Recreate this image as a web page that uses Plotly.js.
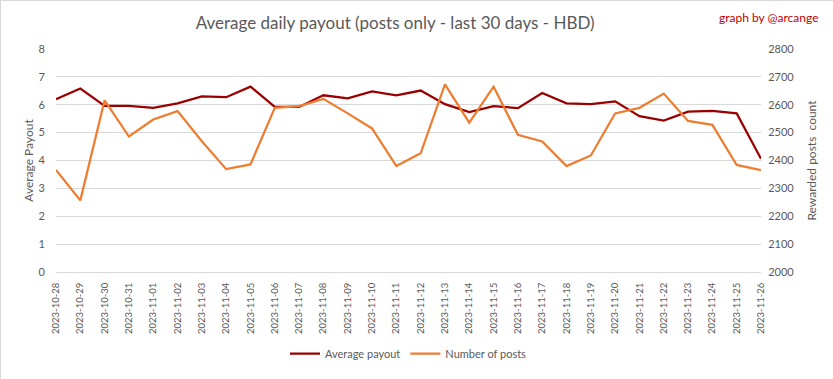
<!DOCTYPE html>
<html>
<head>
<meta charset="utf-8">
<script src="https://cdn.plot.ly/plotly-3.0.1.min.js"></script>
<style>
html,body{margin:0;padding:0;background:#fff;}
#chart{width:833px;height:379px;box-sizing:border-box;border:1px solid #d9d9d9;}
</style>
</head>
<body>
<div id="chart"></div>
<script>
const dates = ["2023-10-28","2023-10-29","2023-10-30","2023-10-31","2023-11-01","2023-11-02","2023-11-03","2023-11-04","2023-11-05","2023-11-06","2023-11-07","2023-11-08","2023-11-09","2023-11-10","2023-11-11","2023-11-12","2023-11-13","2023-11-14","2023-11-15","2023-11-16","2023-11-17","2023-11-18","2023-11-19","2023-11-20","2023-11-21","2023-11-22","2023-11-23","2023-11-24","2023-11-25","2023-11-26"];
const averagePayout = [6.20,6.58,5.96,5.96,5.89,6.05,6.30,6.27,6.65,5.92,5.92,6.34,6.23,6.48,6.34,6.51,6.02,5.74,5.95,5.88,6.42,6.05,6.02,6.12,5.59,5.43,5.75,5.78,5.69,4.06];
const numberOfPosts = [2366,2257,2616,2486,2547,2577,2469,2369,2386,2589,2595,2621,2569,2515,2380,2426,2673,2536,2665,2492,2468,2380,2418,2569,2589,2640,2542,2528,2384,2365];

const fontFam = "Lato, 'Open Sans', sans-serif";
const grey = "#595959";

const traces = [
  {x: dates, y: averagePayout, name: "Average payout", type: "scatter", mode: "lines",
   line: {color: "#9b0000", width: 2.25}, yaxis: "y"},
  {x: dates, y: numberOfPosts, name: "Number of posts", type: "scatter", mode: "lines",
   line: {color: "#ed7d31", width: 2.25}, yaxis: "y2"}
];

const layout = {
  width: 833, height: 379,
  margin: {l: 55, r: 73, t: 48, b: 105},
  paper_bgcolor: "#fff", plot_bgcolor: "#fff",
  font: {family: fontFam, color: grey, size: 11},
  title: {text: "Average daily payout (posts only - last 30 days - HBD)",
    font: {family: fontFam, size: 17, color: grey},
    x: 0.481, xanchor: "center", y: 0.942, yanchor: "middle", xref: "paper"},
  showlegend: true,
  legend: {orientation: "h", x: 0.5, xanchor: "center", xref: "paper", y: -0.366, yanchor: "middle",
    font: {family: fontFam, size: 11, color: grey}},
  xaxis: {type: "category", tickangle: -90, showgrid: false, showline: false, zeroline: false,
    automargin: false, ticks: "outside", ticklen: 6, tickcolor: "rgba(0,0,0,0)",
    tickfont: {family: fontFam, size: 9.5, color: grey}},
  yaxis: {range: [0, 8], dtick: 1, showgrid: true, gridcolor: "#d9d9d9", gridwidth: 1,
    automargin: false,
    zeroline: true, zerolinecolor: "#d9d9d9", showline: false, ticks: "outside", ticklen: 8, tickcolor: "rgba(0,0,0,0)",
    tickfont: {family: fontFam, size: 11, color: grey},
    title: {text: "Average Payout", font: {family: fontFam, size: 12, color: grey}, standoff: 2}},
  yaxis2: {range: [2000, 2800], dtick: 100, overlaying: "y", side: "right", showgrid: false,
    automargin: false,
    zeroline: false, showline: false, ticks: "outside", ticklen: 4, tickcolor: "rgba(0,0,0,0)",
    tickfont: {family: fontFam, size: 11, color: grey},
    title: {text: "Rewarded posts  count", font: {family: fontFam, size: 12, color: grey}, standoff: 14}},
  annotations: [{text: "graph by @arcange", xref: "paper", yref: "paper", x: 1.085, y: 1.142,
    xanchor: "right", yanchor: "middle", showarrow: false,
    font: {family: fontFam, size: 12, color: "#c00000"}}]
};

Plotly.newPlot("chart", traces, layout, {displayModeBar: false, staticPlot: true});
</script>
</body>
</html>
